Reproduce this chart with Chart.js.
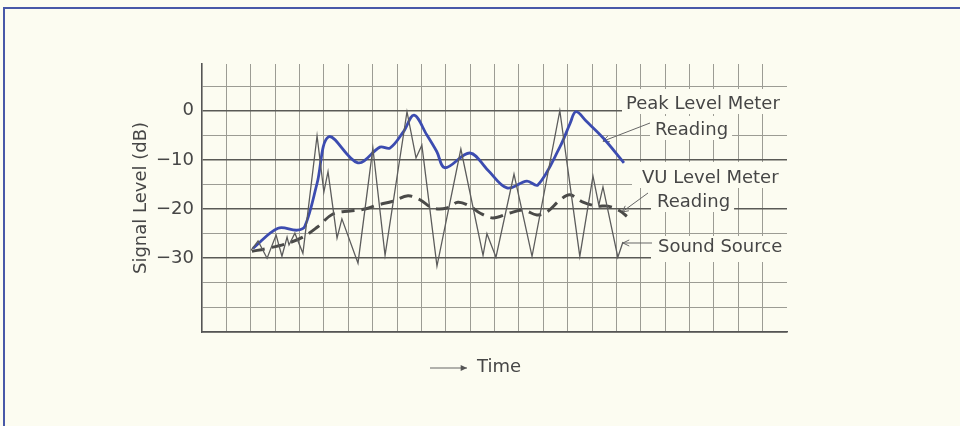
<!DOCTYPE html>
<html>
<head>
<meta charset="utf-8">
<script src="https://cdn.jsdelivr.net/npm/chart.js@4.4.1/dist/chart.umd.min.js"></script>
<style>
  html, body { margin: 0; padding: 0; background: #fcfcf1; }
  #wrap { position: relative; width: 960px; height: 426px; overflow: hidden; }
  #frame {
    position: absolute; left: 3px; top: 7px; right: -4px; bottom: -4px;
    border-top: 2px solid #4858a8; border-left: 2px solid #4858a8;
    pointer-events: none;
  }
</style>
</head>
<body>
<div id="wrap">
  <canvas id="chart" width="960" height="426"></canvas>
  <div id="frame"></div>
</div>
<script>
// time runs over 24 grid columns, levels in dB
const soundTime = [2.01, 2.30, 2.67, 3.04, 3.28, 3.49, 3.57, 3.81, 4.14, 4.72, 5.00, 5.17, 5.54, 5.74, 6.40, 7.01, 7.51, 8.41, 8.78, 9.02, 9.64, 10.62, 11.53, 11.69, 12.06, 12.80, 13.54, 14.68, 15.50, 16.04, 16.28, 16.45, 17.06, 17.27]
const soundLevel = [-28.4, -26.5, -30, -25.3, -29.6, -25.7, -27.3, -24.9, -29, -5.1, -16.5, -12.4, -25.9, -22, -31, -7.6, -29.4, -0.2, -9.6, -7, -31.6, -7.8, -29.4, -25, -29.8, -12.9, -29.6, 0, -29.6, -13.3, -19.2, -15.5, -29.8, -26.7]

const peakTime = [2.09, 3.12, 3.90, 4.22, 4.72, 5.20, 6.40, 7.30, 7.71, 8.26, 8.70, 9.22, 9.63, 9.97, 10.99, 11.73, 12.51, 13.33, 13.78, 14.69, 15.10, 15.34, 15.78, 16.47, 17.31]
const peakLevel = [-28, -23.9, -24.3, -23.5, -14.8, -5.3, -10.6, -7.4, -7.6, -4.3, -0.9, -4.9, -8.3, -11.6, -8.6, -12.1, -15.7, -14.3, -15.1, -7.3, -2.6, -0.2, -2.2, -5.6, -10.6]

const vuTime = [2.05, 2.67, 3.49, 4.14, 4.72, 5.37, 6.07, 6.69, 7.18, 7.83, 8.45, 8.94, 9.47, 10.05, 10.50, 10.99, 11.40, 11.94, 12.63, 13.17, 13.74, 14.15, 14.68, 15.09, 15.63, 16.20, 16.65, 17.15, 17.43]
const vuLevel = [-28.6, -28, -27, -25.7, -23.7, -21, -20.4, -20, -19.2, -18.4, -17.3, -18.1, -19.8, -19.8, -18.6, -19.4, -20.8, -21.8, -20.8, -20.2, -21.2, -20.6, -18.2, -17.1, -18.6, -19.4, -19.4, -20.4, -21.5]

const levelTicks = [0, -10, -20, -30]

const FONT = 'DejaVu Sans'
const INK = '#464646'
const PAPER = '#fcfcf1'

// pairs two arrays into {x, y} points
const toPoints = (xs, ys) => xs.map((x, i) => ({ x: x, y: ys[i] }))

// callout texts, left edge + baseline in px, with a paper patch behind them
const notes = [
  { text: 'Peak Level Meter', x: 626, y: 109, mask: [4, 20, 12, 5] },
  { text: 'Reading', x: 655, y: 135, mask: [5, 19, 4, 5] },
  { text: 'VU Level Meter', x: 642, y: 183, mask: [10, 21, 12, 5] },
  { text: 'Reading', x: 657, y: 207, mask: [6, 19, 4, 5] },
  { text: 'Sound Source', x: 658, y: 252, mask: [7, 16, 12, 10] },
]
// leaders: start in px, tip in data units (time, dB)
const leaders = [
  { from: [650, 123], tip: [16.45, -6.2] },
  { from: [648, 193], tip: [17.23, -20.6] },
  { from: [652, 243], tip: [17.27, -26.9] },
]

function arrow(ctx, x0, y0, x1, y1, size, filled) {
  const a = Math.atan2(y1 - y0, x1 - x0)
  ctx.beginPath()
  ctx.moveTo(x0, y0)
  ctx.lineTo(x1, y1)
  ctx.stroke()
  ctx.beginPath()
  ctx.moveTo(x1 - size * Math.cos(a - 0.45), y1 - size * Math.sin(a - 0.45))
  ctx.lineTo(x1, y1)
  ctx.lineTo(x1 - size * Math.cos(a + 0.45), y1 - size * Math.sin(a + 0.45))
  if (filled) { ctx.closePath(); ctx.fill() } else ctx.stroke()
}

const calloutPlugin = {
  id: 'callouts',
  beforeDatasetsDraw(chart) {
    const ctx = chart.ctx
    const xs = chart.scales.x
    const ys = chart.scales.y
    ctx.save()
    ctx.font = '18px "' + FONT + '"'
    ctx.textBaseline = 'alphabetic'
    notes.forEach(n => {
      const w = ctx.measureText(n.text).width
      const m = n.mask
      ctx.fillStyle = PAPER
      ctx.fillRect(n.x - m[0], n.y - m[1], w + m[0] + m[2], m[1] + m[3])
      ctx.fillStyle = INK
      ctx.fillText(n.text, n.x, n.y)
    })

    ctx.strokeStyle = '#666'
    ctx.fillStyle = '#555'
    ctx.lineWidth = 1
    leaders.forEach(l => {
      arrow(ctx, l.from[0], l.from[1], xs.getPixelForValue(l.tip[0]), ys.getPixelForValue(l.tip[1]), 7, false)
    })

    // time arrow under the plot
    ctx.lineWidth = 1.2
    arrow(ctx, 430, 368, 467, 368, 7, true)
    ctx.fillStyle = INK
    ctx.fillText('Time', 477, 372)
    ctx.restore()
  }
}

const ctx = document.getElementById('chart')
const chart = new Chart(ctx, {
  type: 'line',
  data: {
    datasets: [
      {
        label: 'Sound Source',
        data: toPoints(soundTime, soundLevel),
        borderColor: '#5c5c5c',
        borderWidth: 1.3,
        tension: 0,
        pointRadius: 0,
      },
      {
        label: 'VU Level Meter Reading',
        data: toPoints(vuTime, vuLevel),
        borderColor: '#4a4a48',
        borderWidth: 3,
        borderDash: [13, 7],
        tension: 0.35,
        pointRadius: 0,
      },
      {
        label: 'Peak Level Meter Reading',
        data: toPoints(peakTime, peakLevel),
        borderColor: '#3c4cb0',
        borderWidth: 2.8,
        tension: 0.35,
        pointRadius: 0,
      },
    ]
  },
  options: {
    responsive: false,
    animation: false,
    layout: { padding: { left: 127, top: 64, right: 173, bottom: 94 } },
    plugins: { legend: { display: false }, tooltip: { enabled: false } },
    scales: {
      x: {
        type: 'linear',
        min: 0,
        max: 24,
        ticks: { display: false, stepSize: 1 },
        grid: {
          drawTicks: false,
          lineWidth: 1,
          color: (c) => (c.tick.value <= 0 || c.tick.value >= 24) ? 'rgba(0,0,0,0)' : '#9c9c94',
        },
        border: { color: '#555', width: 1.6 },
        afterFit: (scale) => { scale.height = 0 },
      },
      y: {
        min: -45,
        max: 9.5,
        ticks: {
          stepSize: 5,
          autoSkip: false,
          padding: 8,
          color: INK,
          font: { family: FONT, size: 18 },
          callback: (v) => levelTicks.includes(v) ? (v < 0 ? '\u2212' + Math.abs(v) : String(v)) : '',
        },
        grid: {
          drawTicks: false,
          color: (c) => {
            const v = c.tick.value
            if (v % 5 !== 0) return 'rgba(0,0,0,0)'
            return levelTicks.includes(v) ? '#5a5a56' : '#9c9c94'
          },
          lineWidth: (c) => levelTicks.includes(c.tick.value) ? 1.6 : 1,
        },
        border: { color: '#555', width: 1.6 },
        title: {
          display: true,
          text: 'Signal Level (dB)',
          color: INK,
          font: { family: FONT, size: 18 },
          padding: { top: 4, bottom: 4 },
        },
        afterFit: (scale) => { scale.width = 75 },
      }
    }
  },
  plugins: [calloutPlugin]
})
</script>
</body>
</html>
